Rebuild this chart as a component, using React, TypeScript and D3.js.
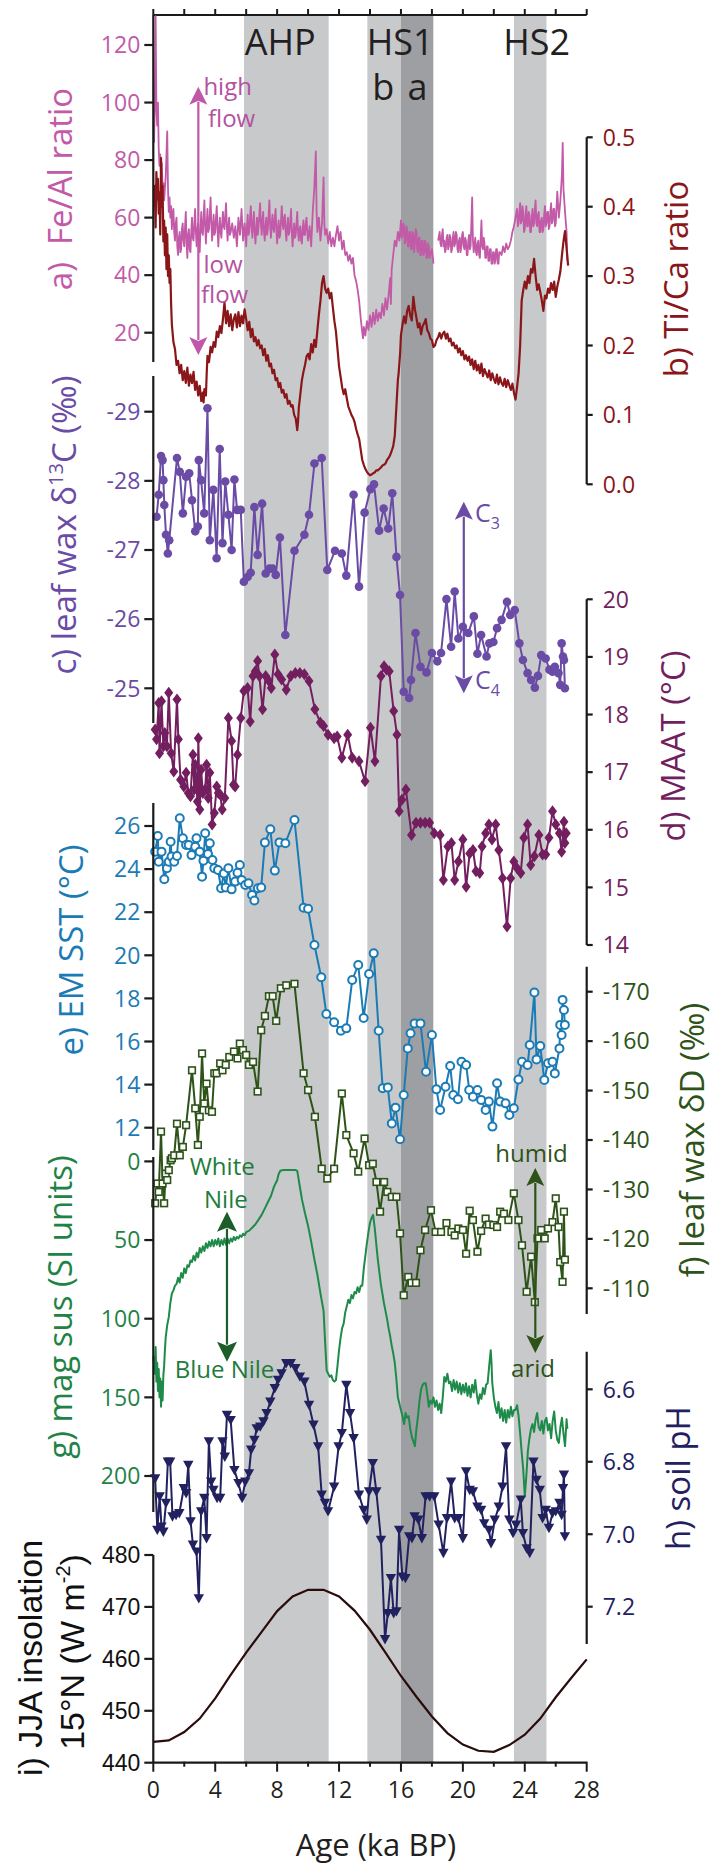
import React, { useEffect } from "react";
import * as d3 from "d3";

type Pt = [number, number];

// ---------- data ----------
const ageTicksMajor = [0, 4, 8, 12, 16, 20, 24, 28];
const ageTicksAll = d3.range(0, 29, 2);

const bands = [
  { name: "AHP", from: 5.86, to: 11.33, kind: "light" },
  { name: "HS1b", from: 13.83, to: 16.0, kind: "light" },
  { name: "HS1a", from: 16.0, to: 18.09, kind: "dark" },
  { name: "HS2", from: 23.3, to: 25.4, kind: "light" },
];
const eventLabels = [
  { text: "AHP", age: 8.2 },
  { text: "HS1", age: 15.95 },
  { text: "HS2", age: 24.77 },
];
const hs1Sub = [
  { text: "b", age: 14.86 },
  { text: "a", age: 17.07 },
];

const feAlTicks = [20, 40, 60, 80, 100, 120];
const tiCaTicks = [0, 0.1, 0.2, 0.3, 0.4, 0.5];
const d13cTicks = [-29, -28, -27, -26, -25];
const maatTicks = [14, 15, 16, 17, 18, 19, 20];
const sstTicks = [12, 14, 16, 18, 20, 22, 24, 26];
const dDTicks = [-170, -160, -150, -140, -130, -120, -110];
const magTicks = [0, 50, 100, 150, 200];
const phTicks = [6.6, 6.8, 7.0, 7.2];
const insTicks = [440, 450, 460, 470, 480];

const feAl: Pt[] = [
  [0.05, 86], [0.1, 100], [0.15, 130], [0.2, 98], [0.25, 92], [0.3, 100], [0.35, 84], [0.4, 78], [0.45, 82],
  [0.5, 74], [0.55, 79], [0.6, 70], [0.65, 72], [0.7, 66], [0.8, 74], [0.9, 90], [0.95, 70], [1.0, 62],
  [1.05, 67], [1.1, 60], [1.15, 64], [1.2, 56], [1.25, 61], [1.3, 63], [1.35, 55], [1.4, 52], [1.45, 58],
  [1.5, 60], [1.55, 50], [1.6, 47], [1.65, 53], [1.7, 55], [1.75, 48], [1.8, 49], [1.85, 56], [1.9, 58],
  [1.95, 52], [2.0, 50], [2.05, 57], [2.1, 62], [2.15, 51], [2.2, 46], [2.25, 54], [2.3, 56], [2.35, 49],
  [2.4, 48], [2.45, 55], [2.5, 60], [2.55, 53], [2.6, 52], [2.65, 58], [2.7, 63], [2.75, 55], [2.8, 50],
  [2.85, 56], [2.9, 58], [2.95, 51], [3.0, 48], [3.05, 57], [3.1, 62], [3.15, 55], [3.2, 54], [3.25, 60],
  [3.3, 66], [3.35, 57], [3.4, 51], [3.45, 58], [3.5, 63], [3.55, 55], [3.6, 56], [3.65, 61], [3.7, 67],
  [3.75, 58], [3.8, 52], [3.85, 57], [3.9, 61], [3.95, 54], [4.0, 55], [4.05, 60], [4.1, 64], [4.15, 56],
  [4.2, 50], [4.25, 56], [4.3, 60], [4.35, 55], [4.4, 53], [4.45, 58], [4.5, 62], [4.55, 57], [4.6, 56],
  [4.65, 61], [4.7, 65], [4.75, 57], [4.8, 52], [4.85, 57], [4.9, 60], [4.95, 54], [5.0, 55], [5.1, 58],
  [5.2, 53], [5.3, 57], [5.4, 50], [5.5, 60], [5.6, 54], [5.7, 63], [5.8, 52], [5.9, 58], [6.0, 50],
  [6.05, 57], [6.1, 61], [6.15, 54], [6.2, 55], [6.25, 60], [6.3, 64], [6.35, 57], [6.4, 53], [6.45, 58],
  [6.5, 62], [6.55, 55], [6.6, 51], [6.65, 56], [6.7, 60], [6.75, 54], [6.8, 57], [6.85, 61], [6.9, 65],
  [6.95, 58], [7.0, 54], [7.05, 59], [7.1, 62], [7.15, 55], [7.2, 52], [7.25, 57], [7.3, 60], [7.35, 54],
  [7.4, 56], [7.45, 61], [7.5, 66], [7.55, 57], [7.6, 53], [7.65, 58], [7.7, 61], [7.75, 56], [7.8, 55],
  [7.85, 60], [7.9, 63], [7.95, 56], [8.0, 51], [8.05, 56], [8.1, 59], [8.15, 53], [8.2, 54], [8.25, 59],
  [8.3, 64], [8.35, 58], [8.4, 56], [8.45, 60], [8.5, 61], [8.55, 55], [8.6, 52], [8.65, 57], [8.7, 60],
  [8.75, 54], [8.8, 55], [8.85, 59], [8.9, 63], [8.95, 55], [9.0, 50], [9.05, 55], [9.1, 58], [9.15, 53],
  [9.2, 54], [9.25, 58], [9.3, 62], [9.35, 55], [9.4, 52], [9.45, 56], [9.5, 57], [9.55, 52], [9.6, 51],
  [9.65, 56], [9.7, 59], [9.75, 54], [9.8, 54], [9.85, 58], [9.9, 60], [9.95, 55], [10.0, 52], [10.1, 57],
  [10.2, 50], [10.3, 62], [10.4, 70], [10.5, 83], [10.55, 62], [10.6, 55], [10.7, 60], [10.8, 52],
  [10.9, 58], [11.0, 74], [11.05, 58], [11.1, 54], [11.2, 56], [11.3, 51], [11.4, 55], [11.5, 50],
  [11.6, 53], [11.7, 50], [11.8, 54], [11.9, 57], [12.0, 52], [12.1, 55], [12.2, 49], [12.3, 52],
  [12.4, 47], [12.5, 48], [12.6, 45], [12.7, 47], [12.8, 44], [12.9, 46], [13.0, 40], [13.1, 38],
  [13.2, 35], [13.3, 31], [13.4, 25], [13.5, 20], [13.55, 18], [13.6, 22], [13.7, 19], [13.8, 24],
  [13.9, 21], [14.0, 26], [14.1, 22], [14.2, 27], [14.3, 23], [14.4, 28], [14.5, 24], [14.6, 27],
  [14.7, 25], [14.8, 30], [14.9, 26], [15.0, 32], [15.1, 28], [15.2, 33], [15.3, 39], [15.35, 30],
  [15.4, 42], [15.5, 47], [15.6, 52], [15.7, 50], [15.8, 55], [15.9, 52], [16.0, 59], [16.05, 53],
  [16.1, 54], [16.15, 58], [16.2, 57], [16.25, 51], [16.3, 52], [16.35, 57], [16.4, 56], [16.45, 50],
  [16.5, 50], [16.55, 55], [16.6, 55], [16.65, 49], [16.7, 49], [16.75, 55], [16.8, 54], [16.85, 48],
  [16.9, 51], [16.95, 56], [17.0, 55], [17.05, 49], [17.1, 48], [17.15, 53], [17.2, 53], [17.25, 47],
  [17.3, 47], [17.35, 52], [17.4, 52], [17.45, 47], [17.5, 48], [17.55, 52], [17.6, 51], [17.65, 46],
  [17.7, 46], [17.75, 51], [17.8, 50], [17.85, 46], [17.9, 47], [18.0, 49], [18.1, 44], [18.25, NaN],
  [18.4, 52], [18.5, 55], [18.55, 51], [18.6, 50], [18.65, 54], [18.7, 56], [18.75, 50], [18.8, 52],
  [18.85, 48], [18.9, 49], [18.95, 53], [19.0, 54], [19.05, 49], [19.1, 50], [19.15, 54], [19.2, 53],
  [19.25, 48], [19.3, 49], [19.35, 53], [19.4, 55], [19.45, 50], [19.5, 51], [19.55, 55], [19.6, 54],
  [19.65, 49], [19.7, 48], [19.75, 52], [19.8, 53], [19.85, 48], [19.9, 50], [19.95, 54], [20.0, 55],
  [20.05, 50], [20.1, 49], [20.15, 53], [20.2, 52], [20.25, 47], [20.3, 47], [20.35, 52], [20.4, 54],
  [20.45, 49], [20.5, 50], [20.6, 67], [20.65, 52], [20.7, 48], [20.75, 51], [20.8, 53], [20.85, 48],
  [20.9, 47], [20.95, 51], [21.0, 52], [21.05, 47], [21.1, 46], [21.2, 59], [21.25, 50], [21.3, 49],
  [21.35, 53], [21.4, 51], [21.45, 46], [21.5, 46], [21.55, 50], [21.6, 50], [21.65, 45], [21.7, 45],
  [21.75, 49], [21.8, 49], [21.85, 44], [21.9, 44], [21.95, 48], [22.0, 48], [22.05, 44], [22.1, 45],
  [22.15, 49], [22.2, 49], [22.25, 44], [22.3, 44], [22.35, 48], [22.4, 48], [22.5, 47], [22.6, 50],
  [22.7, 48], [22.8, 51], [22.9, 49], [23.0, 50], [23.1, 52], [23.2, 55], [23.3, 57], [23.4, 60],
  [23.5, 63], [23.55, 57], [23.6, 58], [23.65, 62], [23.7, 65], [23.75, 58], [23.8, 59], [23.85, 64],
  [23.9, 62], [23.95, 55], [24.0, 56], [24.05, 61], [24.1, 64], [24.15, 57], [24.2, 57], [24.25, 62],
  [24.3, 61], [24.35, 55], [24.4, 55], [24.45, 60], [24.5, 63], [24.55, 57], [24.6, 58], [24.65, 63],
  [24.7, 66], [24.75, 58], [24.8, 57], [24.85, 61], [24.9, 62], [24.95, 55], [25.0, 55], [25.05, 59],
  [25.1, 60], [25.15, 55], [25.2, 56], [25.25, 61], [25.3, 64], [25.35, 57], [25.4, 58], [25.45, 62],
  [25.5, 62], [25.55, 56], [25.6, 57], [25.65, 62], [25.7, 65], [25.75, 58], [25.8, 59], [25.85, 63],
  [25.9, 63], [25.95, 57], [26.0, 58], [26.1, 69], [26.2, 60], [26.3, 66], [26.4, 75], [26.45, 86],
  [26.5, 70], [26.6, 62], [26.7, 55], [26.75, 45],
];

const tiCa: Pt[] = [
  [0.05, 0.4], [0.1, 0.43], [0.15, 0.37], [0.2, 0.45], [0.25, 0.41], [0.3, 0.44], [0.35, 0.39], [0.4, 0.42],
  [0.45, 0.36], [0.5, 0.47], [0.55, 0.4], [0.6, 0.43], [0.65, 0.35], [0.7, 0.38], [0.75, 0.33], [0.8, 0.37],
  [0.85, 0.31], [0.9, 0.36], [0.95, 0.3], [1.0, 0.33], [1.05, 0.29], [1.1, 0.31], [1.15, 0.26], [1.2, 0.23],
  [1.3, 0.205], [1.4, 0.195], [1.5, 0.172], [1.6, 0.178], [1.7, 0.16], [1.8, 0.172], [1.9, 0.15], [2.0, 0.163],
  [2.1, 0.146], [2.2, 0.168], [2.3, 0.142], [2.4, 0.158], [2.5, 0.146], [2.6, 0.162], [2.7, 0.136],
  [2.8, 0.148], [2.9, 0.128], [3.0, 0.142], [3.1, 0.12], [3.2, 0.132], [3.25, 0.118], [3.3, 0.137],
  [3.4, 0.128], [3.45, 0.16], [3.5, 0.185], [3.6, 0.176], [3.7, 0.198], [3.8, 0.19], [3.9, 0.205],
  [4.0, 0.198], [4.1, 0.22], [4.2, 0.212], [4.3, 0.228], [4.4, 0.218], [4.5, 0.238], [4.6, 0.262],
  [4.7, 0.232], [4.8, 0.25], [4.9, 0.228], [5.0, 0.245], [5.1, 0.222], [5.2, 0.238], [5.3, 0.245],
  [5.4, 0.226], [5.5, 0.248], [5.6, 0.228], [5.7, 0.243], [5.8, 0.232], [5.9, 0.252], [6.0, 0.238],
  [6.1, 0.222], [6.2, 0.234], [6.3, 0.212], [6.4, 0.224], [6.5, 0.206], [6.6, 0.212], [6.7, 0.2],
  [6.8, 0.208], [6.9, 0.196], [7.0, 0.2], [7.1, 0.186], [7.2, 0.195], [7.3, 0.178], [7.4, 0.186],
  [7.5, 0.17], [7.6, 0.174], [7.7, 0.16], [7.8, 0.165], [7.9, 0.15], [8.0, 0.153], [8.1, 0.14],
  [8.2, 0.146], [8.3, 0.132], [8.4, 0.136], [8.5, 0.125], [8.6, 0.13], [8.7, 0.116], [8.8, 0.12],
  [8.9, 0.112], [9.0, 0.114], [9.1, 0.1], [9.2, 0.095], [9.3, 0.078], [9.35, 0.09], [9.4, 0.11],
  [9.5, 0.13], [9.6, 0.15], [9.7, 0.162], [9.8, 0.172], [9.9, 0.184], [10.0, 0.188], [10.1, 0.18],
  [10.2, 0.202], [10.3, 0.19], [10.4, 0.208], [10.5, 0.198], [10.6, 0.222], [10.7, 0.245], [10.8, 0.265],
  [10.9, 0.29], [11.0, 0.3], [11.1, 0.282], [11.2, 0.276], [11.3, 0.282], [11.4, 0.268], [11.5, 0.276],
  [11.6, 0.255], [11.7, 0.235], [11.8, 0.22], [11.9, 0.195], [12.0, 0.17], [12.1, 0.155], [12.2, 0.14],
  [12.3, 0.13], [12.4, 0.137], [12.5, 0.124], [12.6, 0.112], [12.7, 0.106], [12.8, 0.1], [12.9, 0.096],
  [13.0, 0.09], [13.1, 0.08], [13.2, 0.072], [13.3, 0.065], [13.4, 0.05], [13.5, 0.035], [13.6, 0.028],
  [13.7, 0.022], [13.8, 0.018], [13.9, 0.015], [14.0, 0.013], [14.1, 0.014], [14.2, 0.016], [14.3, 0.017],
  [14.4, 0.02], [14.5, 0.02], [14.6, 0.022], [14.7, 0.024], [14.8, 0.027], [14.9, 0.028], [15.0, 0.03],
  [15.1, 0.035], [15.2, 0.038], [15.3, 0.042], [15.4, 0.048], [15.5, 0.055], [15.6, 0.07], [15.65, 0.09],
  [15.7, 0.11], [15.75, 0.13], [15.8, 0.15], [15.85, 0.16], [15.9, 0.175], [15.95, 0.19], [16.0, 0.215],
  [16.1, 0.23], [16.2, 0.242], [16.3, 0.232], [16.4, 0.25], [16.5, 0.257], [16.6, 0.243], [16.7, 0.236],
  [16.8, 0.27], [16.9, 0.252], [17.0, 0.24], [17.1, 0.226], [17.2, 0.232], [17.3, 0.216], [17.4, 0.228],
  [17.5, 0.232], [17.6, 0.238], [17.7, 0.222], [17.8, 0.218], [17.9, 0.21], [18.0, 0.208], [18.1, 0.198],
  [18.2, 0.2], [18.3, 0.208], [18.4, 0.212], [18.5, 0.218], [18.6, 0.21], [18.7, 0.217], [18.8, 0.22],
  [18.9, 0.21], [19.0, 0.217], [19.1, 0.206], [19.2, 0.21], [19.3, 0.2], [19.4, 0.204], [19.5, 0.196],
  [19.6, 0.2], [19.7, 0.19], [19.8, 0.196], [19.9, 0.186], [20.0, 0.192], [20.1, 0.18], [20.2, 0.186],
  [20.3, 0.178], [20.4, 0.184], [20.5, 0.172], [20.6, 0.18], [20.7, 0.166], [20.8, 0.178], [20.9, 0.164],
  [21.0, 0.172], [21.1, 0.16], [21.2, 0.174], [21.3, 0.156], [21.4, 0.166], [21.5, 0.16], [21.6, 0.154],
  [21.7, 0.164], [21.8, 0.15], [21.9, 0.16], [22.0, 0.152], [22.1, 0.146], [22.2, 0.158], [22.3, 0.144],
  [22.4, 0.154], [22.5, 0.146], [22.6, 0.142], [22.7, 0.152], [22.8, 0.14], [22.9, 0.15], [23.0, 0.143],
  [23.1, 0.136], [23.2, 0.145], [23.3, 0.132], [23.4, 0.122], [23.5, 0.14], [23.6, 0.16], [23.7, 0.2],
  [23.8, 0.265], [23.9, 0.28], [24.0, 0.292], [24.1, 0.282], [24.2, 0.3], [24.3, 0.29], [24.4, 0.31],
  [24.5, 0.305], [24.6, 0.325], [24.7, 0.3], [24.8, 0.28], [24.9, 0.288], [25.0, 0.277], [25.1, 0.265],
  [25.2, 0.25], [25.3, 0.272], [25.4, 0.268], [25.5, 0.282], [25.6, 0.276], [25.7, 0.29], [25.8, 0.28],
  [25.9, 0.292], [26.0, 0.27], [26.1, 0.285], [26.2, 0.295], [26.3, 0.307], [26.4, 0.33], [26.5, 0.35],
  [26.6, 0.365], [26.7, 0.34], [26.8, 0.315],
];

const d13c: Pt[] = [
  [0.21, -27.48], [0.35, -27.8], [0.5, -28.36], [0.6, -28.3], [0.65, -28.01], [0.71, -27.65], [0.82, -27.22],
  [0.94, -26.95], [1.03, -27.14], [1.53, -28.33], [1.71, -28.13], [1.91, -27.53], [2.12, -28.06],
  [2.32, -28.11], [2.5, -27.72], [2.71, -27.27], [2.88, -27.34], [2.94, -28.3], [3.09, -28.01],
  [3.29, -27.53], [3.5, -29.05], [3.65, -27.14], [3.88, -27.87], [4.09, -26.88], [4.29, -28.46],
  [4.47, -27.1], [4.65, -27.99], [4.85, -27.51], [5.06, -27.0], [5.24, -28.02], [5.41, -27.58],
  [5.65, -27.58], [5.85, -26.54], [6.09, -26.61], [6.29, -26.67], [6.53, -27.62], [6.74, -26.93],
  [7.03, -27.67], [7.26, -26.66], [7.5, -26.73], [7.71, -26.73], [7.91, -26.64], [8.18, -27.18],
  [8.53, -25.77], [9.12, -26.99], [9.76, -27.22], [10.06, -27.51], [10.41, -28.25], [10.88, -28.33],
  [11.24, -26.71], [11.74, -26.99], [12.18, -26.95], [12.47, -26.63], [12.94, -27.8], [13.29, -26.47],
  [13.65, -27.54], [14.03, -27.88], [14.26, -27.95], [14.59, -27.28], [14.88, -27.6], [15.18, -27.31],
  [15.44, -27.82], [15.71, -26.9], [15.94, -26.35], [16.18, -24.95], [16.53, -24.86], [16.65, -25.12],
  [16.94, -25.8], [17.26, -25.31], [17.65, -25.23], [18.0, -25.51], [18.35, -25.39], [18.59, -25.51],
  [18.94, -26.29], [19.24, -25.6], [19.47, -26.4], [19.71, -25.72], [20.0, -25.89], [20.35, -25.8],
  [20.71, -26.04], [20.94, -25.5], [21.18, -25.77], [21.53, -25.46], [21.71, -25.65], [21.97, -25.67],
  [22.21, -25.87], [22.5, -25.99], [22.85, -26.25], [23.06, -26.06], [23.35, -26.13], [23.65, -25.65],
  [23.88, -25.41], [24.18, -25.22], [24.41, -25.12], [24.65, -25.01], [24.85, -25.18], [25.06, -25.48],
  [25.35, -25.43], [25.59, -25.27], [25.79, -25.24], [25.94, -25.31], [26.18, -25.22], [26.29, -25.05],
  [26.38, -25.65], [26.47, -25.46], [26.53, -25.41], [26.59, -25.0],
];

const maat: Pt[] = [
  [0.12, 17.74], [0.21, 17.57], [0.35, 18.2], [0.4, 17.33], [0.53, 18.23], [0.65, 17.45], [0.74, 17.68],
  [0.88, 17.45], [1.0, 18.38], [1.15, 17.33], [1.32, 17.01], [1.53, 18.26], [1.62, 17.57], [1.76, 16.87],
  [1.97, 16.75], [2.12, 16.99], [2.26, 16.64], [2.4, 16.58], [2.56, 17.3], [2.65, 16.7], [2.71, 17.13],
  [2.85, 16.49], [2.91, 17.59], [3.0, 16.35], [3.09, 17.04], [3.2, 16.64], [3.35, 16.7], [3.44, 17.13],
  [3.55, 16.55], [3.65, 16.99], [3.8, 16.09], [3.94, 16.29], [4.1, 16.75], [4.2, 16.64], [4.32, 16.61],
  [4.45, 16.35], [4.62, 16.55], [4.85, 17.94], [5.06, 17.54], [5.18, 16.78], [5.29, 16.75], [5.44, 17.3],
  [5.65, 17.94], [5.85, 18.41], [6.09, 18.46], [6.26, 17.88], [6.44, 18.67], [6.59, 18.75], [6.74, 18.93],
  [6.85, 18.67], [7.06, 18.09], [7.26, 18.67], [7.47, 18.58], [7.62, 18.46], [7.85, 19.04], [8.06, 18.7],
  [8.29, 18.61], [8.59, 18.43], [8.88, 18.67], [9.18, 18.72], [9.47, 18.72], [9.76, 18.7], [10.06, 18.58],
  [10.44, 18.09], [10.79, 17.86], [11.0, 17.8], [11.29, 17.65], [11.68, 17.59], [11.88, 17.62],
  [12.18, 17.25], [12.56, 17.65], [12.85, 17.25], [13.29, 17.19], [13.68, 16.84], [14.03, 17.77],
  [14.32, 17.19], [14.71, 18.67], [14.91, 18.84], [15.06, 18.78], [15.24, 18.75], [15.53, 18.06],
  [15.74, 17.65], [15.88, 16.32], [16.06, 16.52], [16.32, 16.7], [16.68, 15.91], [16.97, 16.12],
  [17.26, 16.12], [17.56, 16.12], [17.85, 16.12], [18.15, 15.94], [18.53, 15.91], [18.74, 15.13],
  [19.03, 15.71], [19.26, 15.77], [19.47, 15.13], [19.71, 15.45], [20.0, 15.83], [20.21, 15.01],
  [20.44, 15.59], [20.65, 15.65], [20.85, 15.28], [21.09, 15.25], [21.24, 15.71], [21.47, 15.94],
  [21.68, 16.09], [21.88, 15.83], [22.12, 16.09], [22.32, 15.65], [22.56, 15.16], [22.85, 14.32],
  [23.09, 15.16], [23.29, 15.45], [23.5, 15.33], [23.74, 15.25], [23.94, 15.86], [24.18, 16.09],
  [24.38, 15.39], [24.62, 15.54], [24.91, 15.91], [25.15, 15.57], [25.35, 15.57], [25.56, 15.86],
  [25.79, 16.32], [26.0, 16.09], [26.24, 15.94], [26.38, 15.62], [26.53, 16.14], [26.59, 15.77],
  [26.68, 15.94],
];

const sst: Pt[] = [
  [0.12, 24.81], [0.29, 25.54], [0.35, 24.34], [0.53, 24.81], [0.71, 23.53], [0.88, 24.04], [1.0, 24.34],
  [1.12, 25.27], [1.18, 24.58], [1.35, 24.34], [1.53, 24.61], [1.71, 26.36], [1.91, 25.43], [2.12, 25.12],
  [2.29, 25.12], [2.47, 24.65], [2.71, 25.04], [2.79, 25.43], [3.0, 24.81], [3.15, 23.65], [3.24, 24.39],
  [3.35, 25.66], [3.53, 24.7], [3.65, 25.2], [3.82, 24.42], [3.94, 24.04], [4.18, 23.96], [4.38, 23.11],
  [4.56, 23.8], [4.68, 23.15], [4.85, 24.04], [5.06, 23.06], [5.29, 23.42], [5.44, 23.83], [5.59, 24.19],
  [5.71, 23.49], [5.94, 23.26], [6.15, 23.34], [6.38, 22.8], [6.53, 22.54], [6.76, 23.11], [6.97, 23.15],
  [7.21, 25.23], [7.56, 25.85], [7.85, 23.93], [8.15, 25.24], [8.53, 25.2], [9.12, 26.28], [9.71, 22.21],
  [10.0, 22.16], [10.41, 20.48], [10.85, 18.98], [11.18, 17.28], [11.68, 16.89], [12.12, 16.5],
  [12.47, 16.61], [12.85, 18.85], [13.24, 19.55], [13.59, 17.09], [13.94, 19.13], [14.24, 20.09],
  [14.56, 16.5], [14.82, 13.83], [15.15, 13.87], [15.41, 12.2], [15.65, 12.93], [15.94, 11.46],
  [16.18, 13.52], [16.44, 15.68], [16.62, 16.38], [16.88, 16.84], [17.26, 16.84], [17.62, 14.6],
  [18.0, 16.3], [18.29, 13.78], [18.53, 12.82], [18.88, 13.9], [19.18, 14.86], [19.38, 13.52],
  [19.68, 13.32], [19.91, 15.06], [20.21, 14.91], [20.41, 13.75], [20.65, 13.44], [20.94, 13.75],
  [21.18, 13.29], [21.47, 12.82], [21.68, 13.21], [21.91, 12.05], [22.21, 14.06], [22.41, 13.21],
  [22.76, 13.13], [23.0, 12.59], [23.29, 12.9], [23.59, 14.24], [23.82, 15.06], [24.18, 14.91],
  [24.32, 15.84], [24.62, 18.27], [24.76, 15.17], [25.0, 15.79], [25.26, 14.21], [25.5, 14.99],
  [25.79, 15.06], [25.94, 14.52], [26.24, 15.68], [26.29, 16.77], [26.38, 16.3], [26.44, 17.93],
  [26.53, 17.46], [26.59, 16.77],
];

const dD: Pt[] = [
  [0.12, -127.2], [0.26, -131.2], [0.35, -129.5], [0.5, -141.7], [0.6, -131.2], [0.7, -127.2], [0.8, -133.2],
  [0.9, -131.9], [1.0, -133.9], [1.12, -135.9], [1.2, -136.3], [1.35, -136.9], [1.53, -143.3], [1.71, -136.9],
  [1.91, -138.6], [2.12, -143.0], [2.5, -154.1], [2.71, -146.4], [2.88, -139.0], [3.0, -144.7], [3.15, -157.5],
  [3.29, -147.4], [3.44, -151.4], [3.59, -146.0], [3.79, -145.7], [3.94, -153.5], [4.09, -153.5],
  [4.32, -155.5], [4.47, -154.1], [4.68, -155.2], [4.91, -156.8], [5.21, -157.9], [5.44, -156.5],
  [5.59, -159.5], [5.79, -158.2], [6.0, -157.2], [6.18, -155.2], [6.44, -155.8], [6.74, -149.8],
  [6.97, -162.2], [7.21, -165.1], [7.47, -169.1], [7.71, -169.1], [7.94, -164.1], [8.24, -170.7],
  [8.59, -171.3], [9.12, -171.6], [9.71, -153.5], [10.0, -150.1], [10.44, -144.7], [10.88, -134.2],
  [11.24, -132.2], [11.68, -134.2], [12.18, -149.4], [12.47, -141.0], [12.94, -137.3], [13.24, -133.6],
  [13.65, -140.3], [13.94, -134.9], [14.18, -135.2], [14.42, -131.5], [14.65, -125.5], [14.91, -131.5],
  [15.12, -129.5], [15.41, -128.5], [15.71, -128.5], [15.94, -121.1], [16.18, -108.6], [16.47, -112.3],
  [16.68, -111.1], [16.97, -111.1], [17.26, -117.7], [17.56, -121.8], [17.94, -125.8], [18.24, -121.4],
  [18.59, -121.4], [18.94, -123.2], [19.26, -121.4], [19.47, -120.7], [19.71, -122.1], [20.0, -121.8],
  [20.21, -117.0], [20.44, -125.7], [20.65, -123.8], [20.94, -117.4], [21.18, -121.6], [21.47, -124.1],
  [21.68, -122.9], [21.97, -122.8], [22.21, -122.4], [22.41, -125.5], [22.65, -125.1], [22.94, -123.8],
  [23.29, -129.2], [23.59, -123.8], [23.82, -118.7], [24.12, -109.3], [24.41, -116.4], [24.65, -107.2],
  [24.82, -120.1], [25.06, -121.8], [25.29, -120.1], [25.5, -122.1], [25.79, -123.4], [26.0, -128.2],
  [26.18, -122.4], [26.29, -115.3], [26.44, -111.3], [26.53, -125.5], [26.59, -115.8],
];

const magSus: Pt[] = [
  [0.0, 124], [0.1, 135], [0.15, 118], [0.2, 140], [0.25, 128], [0.3, 146], [0.35, 132], [0.4, 150],
  [0.45, 138], [0.5, 156], [0.55, 140], [0.6, 152], [0.65, 136], [0.7, 130], [0.75, 120], [0.8, 112],
  [0.9, 104], [1.0, 99], [1.1, 90], [1.2, 84], [1.3, 82], [1.4, 79], [1.5, 78], [1.6, 74], [1.7, 77],
  [1.8, 71], [1.9, 74], [2.0, 68], [2.1, 71], [2.2, 66], [2.3, 67], [2.4, 63], [2.5, 64], [2.6, 60],
  [2.7, 63], [2.8, 58], [2.9, 61], [3.0, 55], [3.1, 58], [3.2, 54], [3.3, 57], [3.4, 52], [3.5, 55],
  [3.6, 51], [3.7, 54], [3.8, 50], [3.9, 54], [4.0, 50], [4.1, 53], [4.2, 49], [4.3, 54], [4.4, 50],
  [4.5, 53], [4.6, 49], [4.7, 53], [4.8, 49], [4.9, 52], [5.0, 49], [5.1, 51], [5.2, 48], [5.3, 50],
  [5.4, 48], [5.5, 49], [5.6, 47], [5.7, 48], [5.8, 46], [5.9, 47], [6.0, 45], [6.2, 44], [6.4, 42],
  [6.6, 40], [6.8, 37], [7.0, 34], [7.2, 30], [7.4, 26], [7.6, 22], [7.8, 16], [8.0, 12], [8.1, 8],
  [8.2, 6], [8.4, 5.5], [8.6, 5.5], [8.8, 5.5], [9.0, 5.5], [9.2, 5.5], [9.3, 6], [9.4, 12], [9.5, 18],
  [9.6, 24], [9.8, 33], [10.0, 41], [10.2, 51], [10.4, 62], [10.6, 72], [10.8, 84], [11.0, 95],
  [11.1, 115], [11.2, 133], [11.3, 135], [11.4, 137], [11.5, 136], [11.6, 139], [11.7, 140], [11.8, 139],
  [11.9, 130], [12.0, 120], [12.1, 112], [12.2, 106], [12.3, 103], [12.4, 96], [12.5, 92], [12.6, 88],
  [12.7, 90], [12.8, 85], [12.9, 87], [13.0, 83], [13.1, 84], [13.2, 80], [13.3, 83], [13.4, 79],
  [13.5, 79], [13.6, 68], [13.7, 60], [13.8, 52], [13.9, 45], [14.0, 39], [14.1, 36], [14.2, 34],
  [14.3, 42], [14.4, 52], [14.5, 62], [14.6, 70], [14.7, 78], [14.8, 84], [14.9, 90], [15.0, 95],
  [15.1, 100], [15.2, 106], [15.3, 111], [15.4, 117], [15.5, 122], [15.6, 128], [15.7, 138], [15.8, 150],
  [15.9, 154], [16.0, 158], [16.1, 162], [16.2, 167], [16.3, 160], [16.4, 163], [16.5, 162], [16.6, 170],
  [16.7, 175], [16.8, 178], [16.9, 181], [17.0, 170], [17.1, 162], [17.2, 152], [17.3, 145], [17.4, 142],
  [17.5, 141], [17.6, 141], [17.7, 148], [17.8, 156], [17.9, 152], [18.0, 154], [18.1, 150], [18.2, 156],
  [18.3, 152], [18.4, 158], [18.5, 154], [18.6, 160], [18.7, 150], [18.8, 137], [18.9, 140], [19.0, 135],
  [19.1, 141], [19.2, 140], [19.3, 146], [19.4, 139], [19.5, 145], [19.6, 140], [19.7, 147], [19.8, 141],
  [19.9, 148], [20.0, 142], [20.1, 147], [20.2, 141], [20.3, 149], [20.4, 143], [20.5, 150], [20.6, 142],
  [20.7, 147], [20.8, 139], [20.9, 148], [21.0, 154], [21.1, 148], [21.2, 151], [21.3, 144], [21.4, 148],
  [21.5, 142], [21.6, 141], [21.7, 130], [21.8, 120], [21.85, 128], [21.9, 141], [22.0, 150], [22.1, 156],
  [22.2, 160], [22.3, 153], [22.4, 163], [22.5, 157], [22.6, 165], [22.7, 158], [22.8, 166], [22.9, 158],
  [23.0, 163], [23.1, 156], [23.2, 162], [23.3, 158], [23.4, 158], [23.5, 155], [23.6, 162], [23.7, 173],
  [23.8, 185], [23.9, 196], [24.0, 213], [24.1, 200], [24.2, 184], [24.3, 176], [24.4, 170], [24.5, 167],
  [24.6, 172], [24.7, 164], [24.8, 160], [24.9, 169], [25.0, 171], [25.1, 165], [25.2, 173], [25.3, 165],
  [25.4, 163], [25.5, 171], [25.6, 167], [25.7, 176], [25.8, 165], [25.9, 159], [26.0, 171], [26.1, 177],
  [26.2, 179], [26.3, 169], [26.4, 163], [26.5, 173], [26.6, 181], [26.7, 164], [26.75, 170],
];

const soilPH: Pt[] = [
  [0.12, 6.846], [0.26, 6.988], [0.41, 6.896], [0.53, 6.979], [0.65, 6.993], [0.82, 6.914], [0.94, 6.8],
  [1.09, 6.8], [1.24, 6.951], [1.47, 6.947], [1.68, 6.942], [1.97, 6.873], [2.12, 6.887], [2.26, 6.809],
  [2.41, 6.965], [2.56, 7.029], [2.79, 7.048], [2.94, 7.177], [3.09, 6.937], [3.29, 6.9], [3.44, 7.011],
  [3.59, 6.744], [3.74, 6.855], [3.88, 6.878], [4.12, 6.9], [4.32, 6.9], [4.47, 6.744], [4.62, 6.786],
  [4.76, 6.671], [5.0, 6.685], [5.24, 6.823], [5.5, 6.859], [5.74, 6.9], [5.94, 6.855], [6.18, 6.832],
  [6.32, 6.767], [6.53, 6.74], [6.68, 6.708], [6.91, 6.703], [7.12, 6.689], [7.32, 6.666], [7.56, 6.634],
  [7.85, 6.597], [8.06, 6.574], [8.29, 6.556], [8.59, 6.528], [8.88, 6.528], [9.18, 6.542], [9.47, 6.565],
  [9.76, 6.579], [10.06, 6.643], [10.35, 6.698], [10.65, 6.758], [10.88, 6.891], [11.09, 6.914],
  [11.29, 6.937], [11.68, 6.869], [11.97, 6.758], [12.18, 6.721], [12.47, 6.588], [12.71, 6.666],
  [12.94, 6.735], [13.29, 6.891], [13.59, 6.933], [13.79, 6.96], [13.94, 6.882], [14.18, 6.804],
  [14.41, 6.882], [14.71, 7.016], [14.97, 7.29], [15.15, 7.218], [15.35, 7.121], [15.53, 7.218],
  [15.71, 7.213], [15.88, 6.988], [16.09, 7.117], [16.29, 7.121], [16.53, 7.006], [16.71, 7.011],
  [16.88, 6.951], [17.12, 6.96], [17.35, 7.011], [17.59, 6.896], [17.85, 6.896], [18.15, 6.896],
  [18.44, 6.974], [18.74, 7.052], [18.97, 6.956], [19.24, 6.855], [19.47, 6.956], [19.71, 6.956],
  [20.0, 7.011], [20.21, 6.827], [20.44, 6.878], [20.65, 6.882], [20.94, 6.924], [21.18, 6.933],
  [21.38, 6.97], [21.68, 6.988], [21.82, 7.025], [22.06, 6.96], [22.32, 6.924], [22.56, 6.869],
  [22.79, 6.758], [23.0, 6.96], [23.24, 6.997], [23.44, 6.974], [23.74, 6.905], [23.88, 6.997],
  [24.12, 7.039], [24.32, 7.052], [24.56, 6.8], [24.76, 6.85], [24.97, 6.878], [25.15, 6.956],
  [25.35, 6.933], [25.56, 6.983], [25.79, 6.942], [26.0, 6.937], [26.24, 6.914], [26.38, 6.947],
  [26.47, 6.873], [26.53, 6.836], [26.59, 7.006],
];

const insolation: Pt[] = [
  [0, 444.0], [1, 444.3], [2, 445.9], [3, 448.5], [4, 452.4], [5, 456.9], [6, 461.2], [7, 465.2],
  [8, 469.2], [9, 472.0], [10, 473.3], [11, 473.3], [12, 472.0], [13, 469.3], [14, 465.6], [15, 461.2],
  [16, 456.7], [17, 452.7], [18, 448.9], [19, 445.7], [20, 443.5], [21, 442.3], [22, 442.1], [23, 443.4],
  [24, 445.4], [25, 448.5], [26, 452.6], [27, 456.3], [28, 459.9],
];

// ---------- layout ----------
const W = 713;
const H = 1868;
const X0 = 153.3;
const X1 = 586.7;
const TOP = 15;
const BOTTOM = 1762.7;

const FONT = "'Open Sans', 'Noto Sans', sans-serif";
const ARIAL = "'Liberation Sans', Arial, sans-serif";
const AXIS = "#1a1a1a";
const INK = "#231f20";
const TITLE_SIZE = 33;

const C = {
  feAl: "#c25aa8",
  tiCa: "#8a1619",
  d13c: "#6a4ba5",
  maat: "#731f5f",
  sst: "#1b7bb5",
  dD: "#2d5318",
  mag: "#1f8b4a",
  magText: "#1f8346",
  ph: "#22215f",
  ins: "#2b0c0c",
  light: "#c8c9cb",
  dark: "#9e9fa2",
};

const x = d3.scaleLinear().domain([0, 28]).range([X0, X1]);
const yFe = d3.scaleLinear().domain([20, 120]).range([332.7, 45]);
const yTi = d3.scaleLinear().domain([0, 0.5]).range([484.3, 137.3]);
const yC13 = d3.scaleLinear().domain([-29, -25]).range([411.7, 688.3]);
const yMaat = d3.scaleLinear().domain([14, 20]).range([945, 599.3]);
const ySst = d3.scaleLinear().domain([12, 26]).range([1127.7, 826]);
const yDD = d3.scaleLinear().domain([-170, -110]).range([991.7, 1288.3]);
const yMag = d3.scaleLinear().domain([0, 200]).range([1161.4, 1476]);
const yPh = d3.scaleLinear().domain([6.6, 7.2]).range([1389.3, 1606.7]);
const yIns = d3.scaleLinear().domain([440, 480]).range([BOTTOM, 1555]);

const pathFor = (data: Pt[], y: d3.ScaleLinear<number, number>) =>
  d3
    .line<Pt>()
    .defined((d) => !Number.isNaN(d[1]))
    .x((d) => x(d[0]))
    .y((d) => y(d[1]))(data) || "";

// ---------- pieces ----------
function LeftAxis(props: {
  scale: d3.ScaleLinear<number, number>;
  ticks: number[];
  span: [number, number];
  color: string;
  fmt?: (v: number) => string;
  font?: string;
  size?: number;
}) {
  const { scale, ticks, span, color, fmt = (v) => String(v), font = FONT, size = 23 } = props;
  return (
    <g>
      <line x1={X0} x2={X0} y1={span[0]} y2={span[1]} stroke={AXIS} strokeWidth={2.2} />
      {ticks.map((t) => (
        <g key={t}>
          <line x1={X0 - 9} x2={X0} y1={scale(t)} y2={scale(t)} stroke={AXIS} strokeWidth={2.2} />
          <text x={X0 - 13} y={scale(t)} dy="0.36em" textAnchor="end" fill={color} fontSize={size} fontFamily={font}>
            {fmt(t)}
          </text>
        </g>
      ))}
    </g>
  );
}

function RightAxis(props: {
  scale: d3.ScaleLinear<number, number>;
  ticks: number[];
  span: [number, number];
  color: string;
  fmt?: (v: number) => string;
}) {
  const { scale, ticks, span, color, fmt = (v) => String(v) } = props;
  return (
    <g>
      <line x1={X1} x2={X1} y1={span[0]} y2={span[1]} stroke={AXIS} strokeWidth={2.2} />
      {ticks.map((t) => (
        <g key={t}>
          <line x1={X1} x2={X1 + 6} y1={scale(t)} y2={scale(t)} stroke={AXIS} strokeWidth={2.2} />
          <text x={X1 + 16} y={scale(t)} dy="0.36em" fill={color} fontSize={23} fontFamily={FONT}>
            {fmt(t)}
          </text>
        </g>
      ))}
    </g>
  );
}

function VTitle(props: { x: number; y: number; color: string; children: React.ReactNode; font?: string; size?: number }) {
  const { x: tx, y: ty, color, children, font = FONT, size = TITLE_SIZE } = props;
  return (
    <text
      transform={`translate(${tx},${ty}) rotate(-90)`}
      textAnchor="middle"
      fill={color}
      fontSize={size}
      fontFamily={font}
    >
      {children}
    </text>
  );
}

function DoubleArrow(props: { age: number; y1: number; y2: number; color: string; head?: number }) {
  const { age, y1, y2, color, head = 18 } = props;
  const cx = x(age);
  const hw = head / 2;
  return (
    <g>
      <line x1={cx} x2={cx} y1={y1 + head - 3} y2={y2 - head + 3} stroke={color} strokeWidth={2.2} />
      <path d={`M${cx},${y1} L${cx + hw},${y1 + head} L${cx},${y1 + head - 4} L${cx - hw},${y1 + head} Z`} fill={color} />
      <path d={`M${cx},${y2} L${cx + hw},${y2 - head} L${cx},${y2 - head + 4} L${cx - hw},${y2 - head} Z`} fill={color} />
    </g>
  );
}

export default function App() {
  useEffect(() => {
    document.body.style.margin = "0";
  }, []);

  const fmt1 = (v: number) => v.toFixed(1);
  const diamond = "M0,-6 L4.5,0 L0,6 L-4.5,0 Z";
  const triDown = "M-5.2,-4.2 L5.2,-4.2 L0,5.2 Z";

  return (
    <svg
      width={W}
      height={H}
      viewBox={`0 0 ${W} ${H}`}
      style={{ position: "absolute", left: 0, top: 0, background: "#fff" }}
    >
      <rect width={W} height={H} fill="#fff" />

      {/* climate event bands */}
      {bands.map((b) => (
        <rect
          key={b.name}
          x={x(b.from)}
          y={TOP}
          width={x(b.to) - x(b.from)}
          height={BOTTOM - TOP}
          fill={b.kind === "dark" ? C.dark : C.light}
        />
      ))}

      {/* event labels */}
      {eventLabels.map((e) => (
        <text key={e.text} x={x(e.age)} y={55} textAnchor="middle" fontSize={36} fontFamily={FONT} fill={INK}>
          {e.text}
        </text>
      ))}
      {hs1Sub.map((e) => (
        <text key={e.text} x={x(e.age)} y={100} textAnchor="middle" fontSize={36} fontFamily={FONT} fill={INK}>
          {e.text}
        </text>
      ))}

      {/* top frame */}
      <line x1={X0} x2={X1} y1={TOP} y2={TOP} stroke={AXIS} strokeWidth={2.2} />
      {ageTicksAll.map((t) => (
        <line key={t} x1={x(t)} x2={x(t)} y1={TOP - 6} y2={TOP} stroke={AXIS} strokeWidth={2} />
      ))}

      {/* a) Fe/Al and b) Ti/Ca */}
      <path d={pathFor(feAl, yFe)} fill="none" stroke={C.feAl} strokeWidth={1.8} strokeLinejoin="round" />
      <path d={pathFor(tiCa, yTi)} fill="none" stroke={C.tiCa} strokeWidth={2.2} strokeLinejoin="round" />
      <LeftAxis scale={yFe} ticks={feAlTicks} span={[TOP, 362]} color={C.feAl} />
      <RightAxis scale={yTi} ticks={tiCaTicks} span={[137.3, 484.3]} color={C.tiCa} fmt={fmt1} />
      <VTitle x={72} y={189} color={C.feAl}>{"a)\u00a0 Fe/Al ratio"}</VTitle>
      <VTitle x={688} y={279} color={C.tiCa}>b) Ti/Ca ratio</VTitle>

      <DoubleArrow age={2.91} y1={86.7} y2={355} color="#c157a8" />
      <g fontFamily={FONT} fontSize={24} fill="#b4529f">
        <text x={203.4} y={95}>high</text>
        <text x={208} y={127}>flow</text>
        <text x={203.4} y={273}>low</text>
        <text x={201} y={303}>flow</text>
      </g>

      {/* d) MAAT */}
      <path d={pathFor(maat, yMaat)} fill="none" stroke={C.maat} strokeWidth={2} strokeLinejoin="round" />
      {maat.map((d, i) => (
        <path key={i} d={diamond} transform={`translate(${x(d[0])},${yMaat(d[1])})`} fill={C.maat} />
      ))}
      <RightAxis scale={yMaat} ticks={maatTicks} span={[599.3, 945]} color={C.maat} />
      <VTitle x={685} y={746} color={C.maat}>d) MAAT (°C)</VTitle>

      {/* c) leaf wax d13C */}
      <path d={pathFor(d13c, yC13)} fill="none" stroke={C.d13c} strokeWidth={2} strokeLinejoin="round" />
      {d13c.map((d, i) => (
        <circle key={i} cx={x(d[0])} cy={yC13(d[1])} r={4.3} fill={C.d13c} />
      ))}
      <LeftAxis scale={yC13} ticks={d13cTicks} span={[376, 723]} color={C.d13c} />
      <VTitle x={76} y={525} color={C.d13c}>
        c) leaf wax δ<tspan fontSize={20} dy={-13}>13</tspan>
        <tspan dy={13}>C (‰)</tspan>
      </VTitle>
      <DoubleArrow age={20.06} y1={501.7} y2={693.3} color={C.d13c} />
      <g fontFamily={FONT} fontSize={25} fill={C.d13c}>
        <text x={475} y={522}>
          C<tspan fontSize={16} dy={7}>3</tspan>
        </text>
        <text x={475} y={689}>
          C<tspan fontSize={16} dy={7}>4</tspan>
        </text>
      </g>

      {/* f) leaf wax dD */}
      <path d={pathFor(dD, yDD)} fill="none" stroke={C.dD} strokeWidth={2} strokeLinejoin="round" />
      {dD.map((d, i) => (
        <rect key={i} x={x(d[0]) - 3.3} y={yDD(d[1]) - 3.3} width={6.6} height={6.6} fill="#fff" stroke={C.dD} strokeWidth={1.6} />
      ))}
      <RightAxis scale={yDD} ticks={dDTicks} span={[966.7, 1314]} color={C.dD} />
      <VTitle x={704} y={1140} color={C.dD}>f) leaf wax δD (‰)</VTitle>

      {/* e) EM SST */}
      <path d={pathFor(sst, ySst)} fill="none" stroke={C.sst} strokeWidth={2} strokeLinejoin="round" />
      {sst.map((d, i) => (
        <circle key={i} cx={x(d[0])} cy={ySst(d[1])} r={4} fill="#fff" stroke={C.sst} strokeWidth={2} />
      ))}
      <LeftAxis scale={ySst} ticks={sstTicks} span={[803, 1150]} color={C.sst} />
      <VTitle x={83} y={950} color={C.sst}>e) EM SST (°C)</VTitle>

      {/* g) magnetic susceptibility */}
      <path d={pathFor(magSus, yMag)} fill="none" stroke={C.mag} strokeWidth={2} strokeLinejoin="round" />
      <LeftAxis scale={yMag} ticks={magTicks} span={[1157, 1512]} color={C.magText} />
      <VTitle x={72} y={1307} color={C.magText}>g) mag sus (SI units)</VTitle>

      <DoubleArrow age={4.76} y1={1211.7} y2={1361.7} color="#1b5e2a" head={20} />
      <g fontFamily={FONT} fontSize={24} fill="#1e7c3c">
        <text x={189.7} y={1175}>White</text>
        <text x={204} y={1208}>Nile</text>
        <text x={174.7} y={1378}>Blue Nile</text>
      </g>

      <DoubleArrow age={24.68} y1={1168} y2={1353} color={C.dD} />
      <g fontFamily={FONT} fontSize={24} fill={C.dD} textAnchor="middle">
        <text x={531.5} y={1161.7}>humid</text>
        <text x={533} y={1376.7}>arid</text>
      </g>

      {/* h) soil pH */}
      <path d={pathFor(soilPH, yPh)} fill="none" stroke={C.ph} strokeWidth={2} strokeLinejoin="round" />
      {soilPH.map((d, i) => (
        <path key={i} d={triDown} transform={`translate(${x(d[0])},${yPh(d[1])})`} fill={C.ph} />
      ))}
      <RightAxis scale={yPh} ticks={phTicks} span={[1351.7, 1644]} color={C.ph} fmt={fmt1} />
      <VTitle x={690} y={1478} color={C.ph}>h) soil pH</VTitle>

      {/* i) insolation */}
      <path d={pathFor(insolation, yIns)} fill="none" stroke={C.ins} strokeWidth={2.2} />
      <LeftAxis scale={yIns} ticks={insTicks} span={[1555, BOTTOM]} color="#111" font={ARIAL} size={23} />
      <VTitle x={42} y={1658} color="#111" font={ARIAL} size={34}>i) JJA insolation</VTitle>
      <VTitle x={84} y={1652} color="#111" font={ARIAL} size={34}>
        15°N (W m<tspan fontSize={20} dy={-14}>-2</tspan>
        <tspan dy={14}>)</tspan>
      </VTitle>

      {/* age axis */}
      <line x1={X0} x2={X1} y1={BOTTOM} y2={BOTTOM} stroke={AXIS} strokeWidth={2.2} />
      {ageTicksAll.map((t) => (
        <line
          key={t}
          x1={x(t)}
          x2={x(t)}
          y1={BOTTOM - 1}
          y2={BOTTOM + (t % 4 === 0 ? 9 : 4)}
          stroke={AXIS}
          strokeWidth={2}
        />
      ))}
      {ageTicksMajor.map((t) => (
        <text key={t} x={x(t)} y={1798} textAnchor="middle" fontSize={23} fontFamily={FONT} fill={INK}>
          {t}
        </text>
      ))}
      <text x={376} y={1856} textAnchor="middle" fontSize={31} fontFamily={FONT} fill={INK}>
        Age (ka BP)
      </text>
    </svg>
  );
}
